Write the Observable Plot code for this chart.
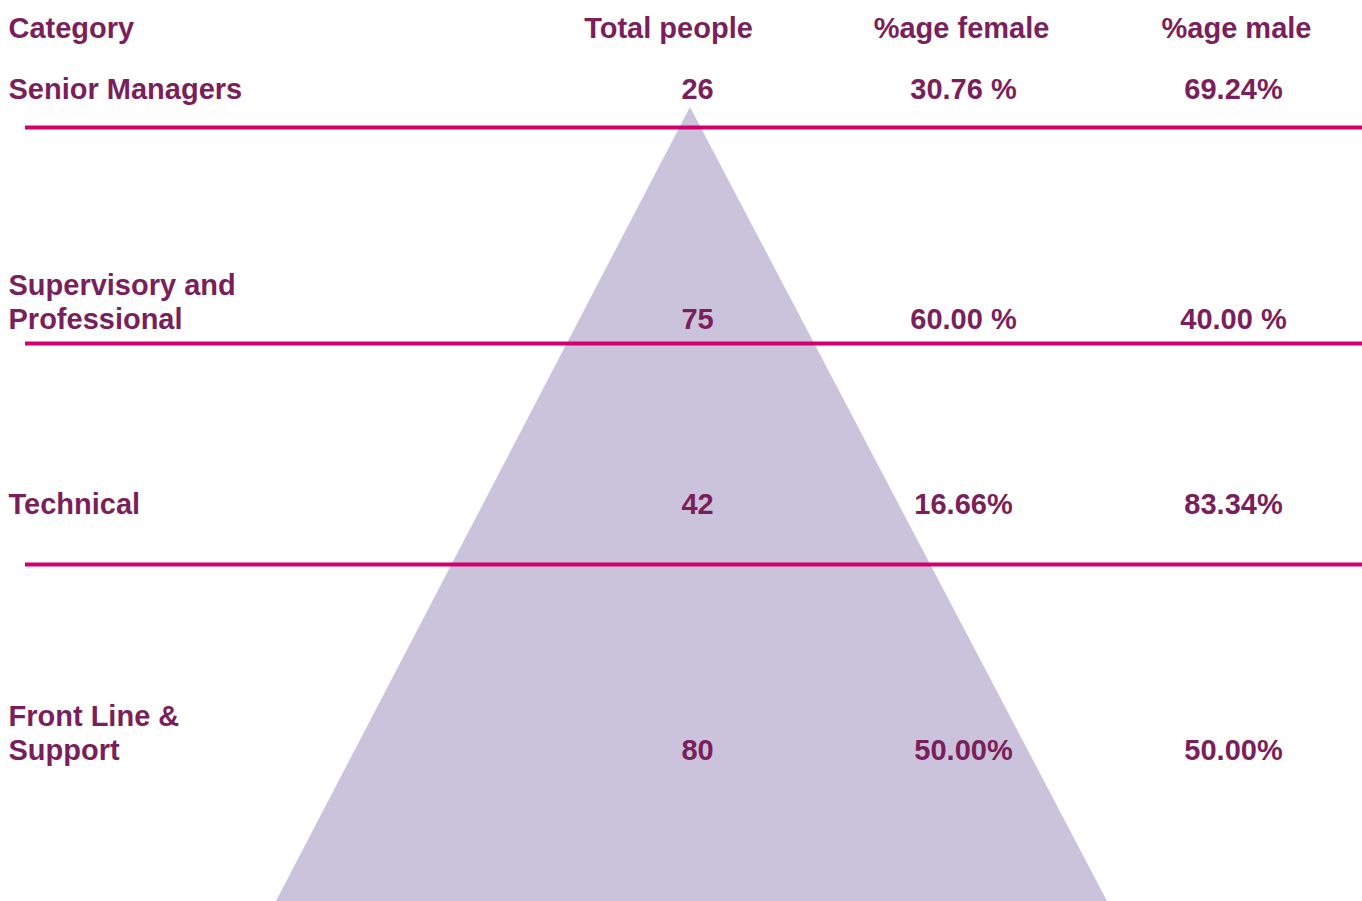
<!DOCTYPE html>
<html>
<head>
<meta charset="utf-8">
<script src="https://cdn.jsdelivr.net/npm/d3@7"></script>
<script src="https://cdn.jsdelivr.net/npm/@observablehq/plot@0.6"></script>
<style>
  html, body { margin: 0; padding: 0; background: #fff; }
  #chart svg { display: block; }
</style>
</head>
<body>
<div id="chart"></div>
<script>
// ---- data ----
const headers = ["Category", "Total people", "%age female", "%age male"];
const categories = ["Senior Managers", "Supervisory and\nProfessional", "Technical", "Front Line &\nSupport"];
const totalPeople = [26, 75, 42, 80];
const pctFemale = ["30.76 %", "60.00 %", "16.66%", "50.00%"];
const pctMale = ["69.24%", "40.00 %", "83.34%", "50.00%"];

// ---- layout (pixel positions) ----
const W = 1362, H = 901;
const headerX = [8, 668, 961, 1236];
const headerY = 37;
const valueX = [8, 697, 963, 1233];
const rowBaseline = [98, 328, 513, 759];
const separatorY = [127, 343, 564];
const triangle = [{y: 107, x1: 690, x2: 690}, {y: 901, x1: 276, x2: 1107}];

const textColor = "#7a1f5b";
const lineColor = "#d1006e";
const triColor = "#cbc2db";

const headerRows = headers.map((h, i) => ({label: h, x: headerX[i], y: headerY, anchor: i === 0 ? "start" : "middle"}));
const cells = [];
categories.forEach((c, r) => {
  const vals = [c, String(totalPeople[r]), pctFemale[r], pctMale[r]];
  vals.forEach((v, i) => cells.push({label: v, x: valueX[i], y: rowBaseline[r], col: i}));
});

const common = {fill: textColor, fontSize: 29, fontWeight: "bold", lineAnchor: "bottom", lineHeight: 1.17};

const chart = Plot.plot({
  width: W,
  height: H,
  margin: 0,
  style: {fontFamily: "'Liberation Sans', Arial, sans-serif", background: "#fff"},
  x: {type: "linear", domain: [0, W], range: [0, W], axis: null},
  y: {type: "linear", domain: [0, H], range: [0, H], axis: null},
  marks: [
    Plot.areaX(triangle, {y: "y", x1: "x1", x2: "x2", fill: triColor, curve: "linear"}),
    Plot.ruleY(separatorY, {y: d => d, x1: 25, x2: W, stroke: lineColor, strokeWidth: 4}),
    Plot.text(headerRows.filter(d => d.anchor === "start"), {x: "x", y: "y", text: "label", textAnchor: "start", ...common}),
    Plot.text(headerRows.filter(d => d.anchor === "middle"), {x: "x", y: "y", text: "label", textAnchor: "middle", ...common}),
    Plot.text(cells.filter(d => d.col === 0), {x: "x", y: "y", text: "label", textAnchor: "start", ...common}),
    Plot.text(cells.filter(d => d.col > 0), {x: "x", y: "y", text: "label", textAnchor: "middle", ...common})
  ]
});
document.getElementById("chart").appendChild(chart);
</script>
</body>
</html>
